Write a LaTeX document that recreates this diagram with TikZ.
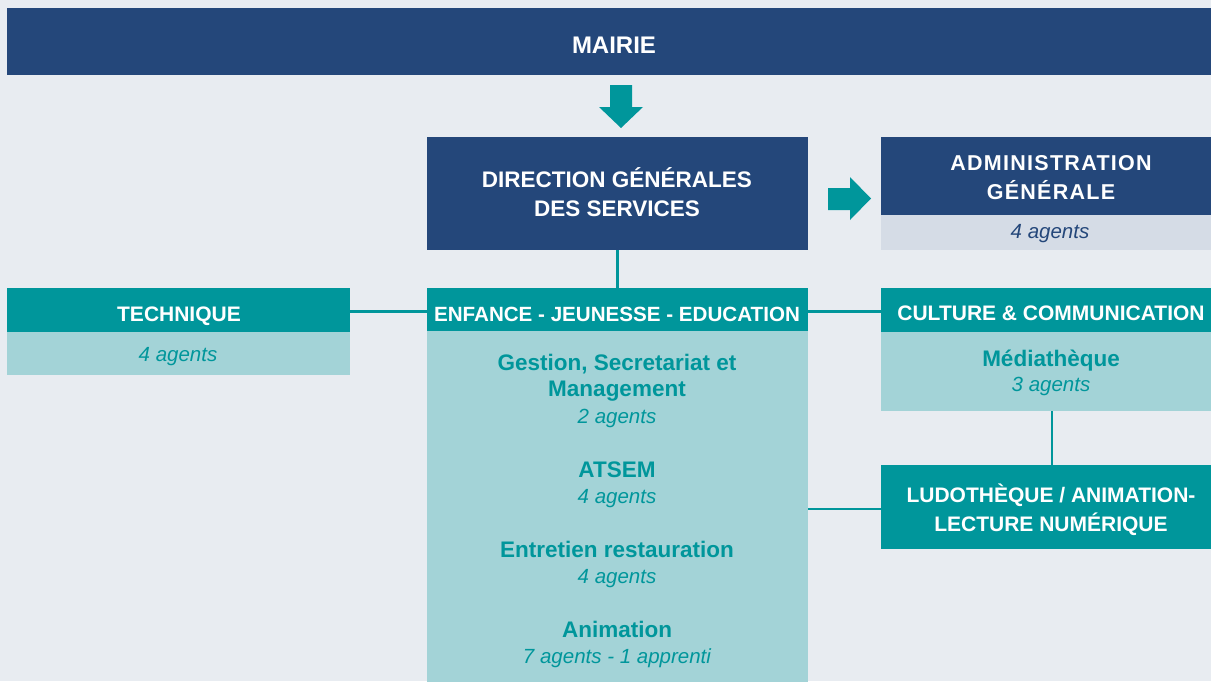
\documentclass[tikz,border=0pt]{standalone}
\usepackage{fontspec}
\setmainfont{Liberation Sans}
\definecolor{bg}{HTML}{E8ECF1}
\definecolor{navy}{HTML}{24477A}
\definecolor{teal}{HTML}{00969B}
\definecolor{lteal}{HTML}{A3D3D7}
\definecolor{lgrey}{HTML}{D5DCE6}
\tikzset{
  box/.style={inner sep=0pt, outer sep=0pt, anchor=north west},
  navybox/.style={box, fill=navy},
  tealbox/.style={box, fill=teal},
  ltealbox/.style={box, fill=lteal},
  lgreybox/.style={box, fill=lgrey},
  lbl/.style={inner sep=0pt, anchor=base},
  navytxt/.style={lbl, text=white, font=\bfseries\fontsize{22.5}{27}\selectfont},
  headtxt/.style={lbl, text=white, font=\bfseries\fontsize{21}{25}\selectfont},
  agents/.style={lbl, text=teal, font=\itshape\fontsize{20.5}{24}\selectfont},
  sub/.style={lbl, text=teal, font=\bfseries\fontsize{22.5}{27}\selectfont},
  link/.style={draw=teal, line width=2.6pt},
  bigarrow/.style={fill=teal}
}
\begin{document}
\begin{tikzpicture}[x=1pt,y=-1pt]
\fill[bg] (0,0) rectangle (1211,681);
\useasboundingbox (0,0) rectangle (1211,681);
% MAIRIE
\node[navybox, minimum width=1204pt, minimum height=67pt] (mairie) at (7,8) {};
\node[navytxt, font=\bfseries\fontsize{24}{28}\selectfont] (mairiet) at (614,53) {MAIRIE};
% down arrow
\fill[bigarrow] (610,85) -- (632,85) -- (632,107) -- (643,107) -- (621,128) -- (599,107) -- (610,107) -- cycle;
% DGS
\node[navybox, minimum width=381pt, minimum height=113pt] (dgs) at (427,137) {};
\node[navytxt] (dgs1) at (617,187) {DIRECTION GÉNÉRALES};
\node[navytxt] (dgs2) at (617,216) {DES SERVICES};
% right arrow
\fill[bigarrow] (828,188) -- (850,188) -- (850,177) -- (871,198.5) -- (850,220) -- (850,210) -- (828,210) -- cycle;
% Administration
\node[navybox, minimum width=330pt, minimum height=78pt] (admin) at (881,137) {};
\node[navytxt, font=\bfseries\fontsize{21.5}{26}\selectfont\addfontfeature{LetterSpace=6}] (admin1) at (1051,170) {ADMINISTRATION};
\node[navytxt, font=\bfseries\fontsize{21.5}{26}\selectfont\addfontfeature{LetterSpace=6}] (admin2) at (1051,199) {GÉNÉRALE};
\node[lgreybox, minimum width=330pt, minimum height=35pt] (adminb) at (881,215) {};
\node[agents, text=navy] (admina) at (1050,238) {4 agents};
% Technique
\node[tealbox, minimum width=343pt, minimum height=44pt] (tech) at (7,288) {};
\node[headtxt] (techt) at (179,321) {TECHNIQUE};
\node[ltealbox, minimum width=343pt, minimum height=43pt] (techb) at (7,332) {};
\node[agents] (techa) at (178,361) {4 agents};
% Enfance
\node[tealbox, minimum width=381pt, minimum height=43pt] (enf) at (427,288) {};
\node[headtxt, font=\bfseries\fontsize{20.6}{25}\selectfont] (enft) at (617,321) {ENFANCE - JEUNESSE - EDUCATION};
\node[ltealbox, minimum width=381pt, minimum height=351pt] (enfb) at (427,331) {};
\node[sub] (gest1) at (617,370.5) {Gestion, Secretariat et};
\node[sub] (gest2) at (617,396.5) {Management};
\node[agents] (gesta) at (617,423) {2 agents};
\node[sub] (atsem) at (617,477) {ATSEM};
\node[agents] (atsema) at (617,503) {4 agents};
\node[sub] (entr) at (617,557) {Entretien restauration};
\node[agents] (entra) at (617,583) {4 agents};
\node[sub] (anim) at (617,637) {Animation};
\node[agents] (anima) at (617,663) {7 agents - 1 apprenti};
% Culture
\node[tealbox, minimum width=330pt, minimum height=44pt] (cult) at (881,288) {};
\node[headtxt] (cultt) at (1051,320) {CULTURE \& COMMUNICATION};
\node[ltealbox, minimum width=330pt, minimum height=79pt] (cultb) at (881,332) {};
\node[sub] (media) at (1051,366.5) {Médiathèque};
\node[agents] (mediaa) at (1051,391) {3 agents};
% Ludo
\node[tealbox, minimum width=330pt, minimum height=84pt] (ludo) at (881,465) {};
\node[headtxt] (ludo1) at (1051,502) {LUDOTHÈQUE / ANIMATION-};
\node[headtxt] (ludo2) at (1051,531) {LECTURE NUMÉRIQUE};
% connectors
\coordinate (hline) at (0,311.5);
\coordinate (vx) at (1052,0);
\coordinate (lline) at (0,509);
\draw[link] (dgs.south) -- (enf.north);
\draw[link] (tech.east |- hline) -- (enf.west |- hline);
\draw[link] (enf.east |- hline) -- (cult.west |- hline);
\draw[link] (cultb.south -| vx) -- (ludo.north -| vx);
\draw[link] (ludo.west |- lline) -- (enfb.east |- lline);
\end{tikzpicture}
\end{document}
